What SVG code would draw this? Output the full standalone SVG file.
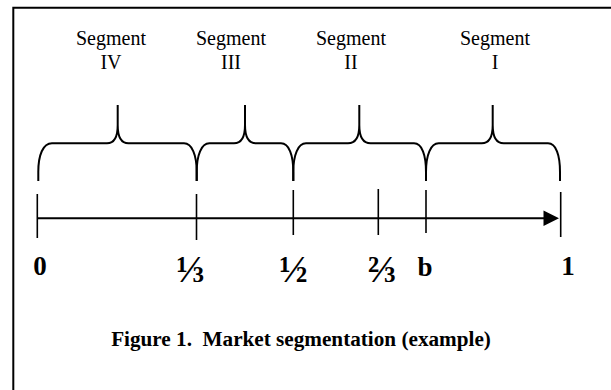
<svg xmlns="http://www.w3.org/2000/svg" width="611" height="390" viewBox="0 0 611 390">
<style>
.frame{stroke:#000;stroke-width:2;fill:none}
.brace{stroke:#000;stroke-width:2;fill:none;stroke-linecap:butt}
.tick{stroke:#000;stroke-width:1.6}
.axis{stroke:#000;stroke-width:2}
.seg{font-family:"Liberation Serif","Times New Roman",serif;font-size:20px;fill:#000;text-anchor:middle}
.num{font-family:"Liberation Serif","Times New Roman",serif;font-size:27px;font-weight:bold;fill:#000;text-anchor:middle}
.frac{font-family:"Liberation Serif","Times New Roman",serif;font-size:38px;font-weight:bold;fill:#000;text-anchor:middle}
.cap{font-family:"Liberation Serif","Times New Roman",serif;font-size:21.2px;font-weight:bold;fill:#000;text-anchor:middle;white-space:pre}
</style>
<rect width="611" height="390" fill="#fff"/>
<path class="frame" d="M13.3,390 V7.7 H611"/>
<g id="labels">
<g id="seg4"><text class="seg" x="111" y="45">Segment</text><text class="seg" x="111" y="69">IV</text></g>
<g id="seg3"><text class="seg" x="231" y="45">Segment</text><text class="seg" x="231" y="69">III</text></g>
<g id="seg2"><text class="seg" x="351" y="45">Segment</text><text class="seg" x="351" y="69">II</text></g>
<g id="seg1"><text class="seg" x="495" y="45">Segment</text><text class="seg" x="495" y="69">I</text></g>
</g>
<g id="braces">
<path class="brace" d="M38.3,181 V172 C38.3,155 43,143.3 52,143.3 H107 C114,143.3 117.7,137 117.7,125 V105 M117.7,125 C117.7,137 121.4,143.3 128.4,143.3 H184 C192,143.3 196.7,155 196.7,172 V181"/>
<path class="brace" d="M196.7,181 V172 C196.7,155 201.4,143.3 209.4,143.3 H234 C241,143.3 245,137 245,125 V105 M245,125 C245,137 249,143.3 256,143.3 H281 C289,143.3 293.3,155 293.3,172 V181"/>
<path class="brace" d="M293.3,181 V172 C293.3,155 298,143.3 306,143.3 H348 C355,143.3 359.3,137 359.3,125 V105 M359.3,125 C359.3,137 363.6,143.3 370.6,143.3 H414 C422,143.3 426,155 426,172 V181"/>
<path class="brace" d="M426,181 V172 C426,155 430.7,143.3 438.7,143.3 H481.7 C488.7,143.3 492.7,137 492.7,125 V105 M492.7,125 C492.7,137 496.7,143.3 503.7,143.3 H548 C556,143.3 560,155 560,172 V181"/>
</g>
<g id="connectors">
<line class="axis" x1="37.3" y1="218.3" x2="545" y2="218.3"/>
<polygon points="543.5,210.5 559,218.3 543.5,226" fill="#000"/>
<line class="tick" x1="37.3" y1="194" x2="37.3" y2="238"/>
<line class="tick" x1="196.5" y1="194" x2="196.5" y2="240"/>
<line class="tick" x1="293.3" y1="190" x2="293.3" y2="235"/>
<line class="tick" x1="378.3" y1="189" x2="378.3" y2="235"/>
<line class="tick" x1="426" y1="190" x2="426" y2="233"/>
<line class="tick" x1="560.7" y1="192" x2="560.7" y2="237"/>
</g>
<g id="ticklabels">
<text class="num" x="40" y="275">0</text>
<text class="frac" x="190.5" y="282">⅓</text>
<text class="frac" x="293.5" y="282">½</text>
<text class="frac" x="382" y="282">⅔</text>
<text class="num" x="425" y="276">b</text>
<text class="num" x="568" y="275">1</text>
</g>
<text id="caption" class="cap" x="301" y="346" xml:space="preserve">Figure 1.  Market segmentation (example)</text>
</svg>
